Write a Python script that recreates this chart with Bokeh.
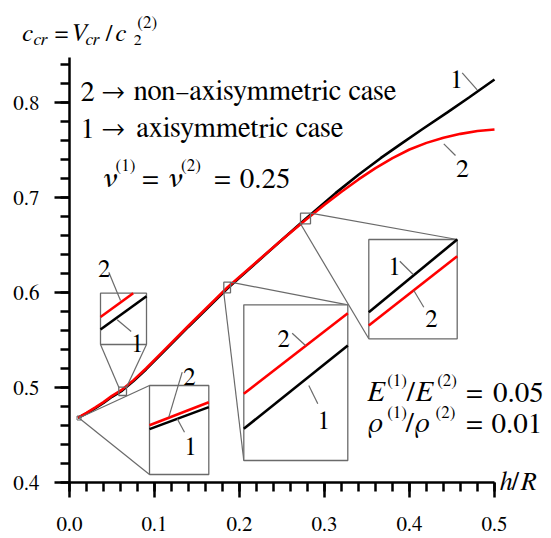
from bokeh.plotting import figure
from bokeh.models import Range1d, SingleIntervalTicker, Label, LinearAxis, NumeralTickFormatter
from bokeh.embed import file_html
from bokeh.resources import INLINE

# ---------------- data ----------------
h_R_1 = [0.01, 0.02, 0.03, 0.04, 0.05, 0.062, 0.075, 0.09, 0.11, 0.14, 0.186, 0.223,
         0.25, 0.278, 0.313, 0.34, 0.366, 0.39, 0.415, 0.445, 0.47, 0.5]
c_cr_1 = [0.468, 0.4727, 0.478, 0.4837, 0.4902, 0.4968, 0.5065, 0.519, 0.537, 0.564, 0.6045, 0.634,
          0.6555, 0.6776, 0.7046, 0.724, 0.7414, 0.7565, 0.7718, 0.7898, 0.8053, 0.8242]
h_R_2 = [0.01, 0.02, 0.03, 0.04, 0.05, 0.062, 0.075, 0.09, 0.11, 0.14, 0.186, 0.223,
         0.25, 0.278, 0.30, 0.32, 0.34, 0.36, 0.38, 0.40, 0.42, 0.44, 0.46, 0.48, 0.5]
c_cr_2 = [0.4682, 0.4732, 0.4788, 0.4846, 0.4912, 0.4978, 0.5075, 0.52, 0.538, 0.565, 0.6055, 0.6345,
          0.6555, 0.6766, 0.6925, 0.706, 0.719, 0.731, 0.7415, 0.7505, 0.7575, 0.763, 0.767, 0.770, 0.7716]
x_ticks = [0.0, 0.1, 0.2, 0.3, 0.4, 0.5]
y_ticks = [0.4, 0.5, 0.6, 0.7, 0.8]

FONT = "FreeSerif"
GRAY = "#6a6a6a"

# ---------------- geometry (page px -> data) ----------------
X0_PX, X_SCALE = 69.0, 850.0   # page px of h/R = 0, px per unit
Y0_PX, Y_SCALE = 482.0, 950.0  # page px of c = 0.4, px per unit
TOP_PX = 57.0                  # upper end of the vertical axis
W, H = 549, 534
PAGE = 0.0


def X(px):
    return (px - X0_PX) / X_SCALE


def Y(py):
    return 0.4 + (Y0_PX - py) / Y_SCALE


y_axis_top = Y(TOP_PX)

p = figure(width=W, height=H,
           x_range=Range1d(X(PAGE), X(PAGE + W)), y_range=Range1d(Y(PAGE + H), Y(PAGE)),
           min_border_left=0, min_border_right=0, min_border_top=0, min_border_bottom=0,
           x_axis_location=None, y_axis_location=None,
           toolbar_location=None, output_backend="svg", background_fill_color="white",
           border_fill_color="white", outline_line_color=None)
p.xgrid.visible = False
p.ygrid.visible = False


def style_axis(ax):
    ax.axis_line_width = 2.5
    ax.axis_line_color = "black"
    ax.major_tick_line_width = 2.5
    ax.minor_tick_line_width = 2.5
    ax.major_tick_line_color = "black"
    ax.minor_tick_line_color = "black"
    ax.major_tick_out = 15
    ax.major_tick_in = 0
    ax.minor_tick_out = 9
    ax.minor_tick_in = 0
    ax.major_label_text_font = FONT
    ax.major_label_text_font_size = "21px"
    ax.major_label_text_color = "black"
    ax.formatter = NumeralTickFormatter(format="0.0")


xaxis = LinearAxis(ticker=SingleIntervalTicker(interval=0.1, num_minor_ticks=5),
                   fixed_location=y_ticks[0], bounds=(x_ticks[0], x_ticks[-1]))
style_axis(xaxis)
xaxis.major_label_standoff = 19
p.add_layout(xaxis, "below")

yaxis = LinearAxis(ticker=SingleIntervalTicker(interval=0.1, num_minor_ticks=5),
                   fixed_location=x_ticks[0], bounds=(y_ticks[0], y_axis_top))
style_axis(yaxis)
yaxis.major_label_standoff = 15
p.add_layout(yaxis, "left")

# ---------------- curves ----------------
p.line(h_R_1, c_cr_1, line_color="black", line_width=2.6)
p.line(h_R_2, c_cr_2, line_color="#ff0000", line_width=2.6)


# ---------------- insets (magnified views) ----------------
def seg(x0, y0, x1, y1, color=GRAY, width=1.2):
    p.segment(X(x0), Y(y0), X(x1), Y(y1), line_color=color, line_width=width)


def box(l, t, r, b, width=1.3):
    p.quad(left=X(l), right=X(r), top=Y(t), bottom=Y(b), fill_color="white",
           line_color=GRAY, line_width=width)


def txt(t, x, base, size, italic=False, align="left"):
    p.add_layout(Label(x=X(x), y=Y(base), text=t, text_font=FONT, text_font_size=size,
                       text_font_style="italic" if italic else "normal",
                       text_align=align, text_baseline="alphabetic", text_color="black"))


def num(t, cx, base, size="25px"):
    txt(t, cx, base, size, align="center")


# small markers on the curves
p.quad(left=X(76.5), right=X(80.5), top=Y(415.5), bottom=Y(419.5), fill_color=None,
       line_color=GRAY, line_width=1.0)
for (l, t, r, b) in [(118.3, 386.7, 126.0, 395.0), (223.3, 281.7, 230.0, 292.3),
                     (300.0, 212.7, 310.0, 223.3)]:
    p.quad(left=X(l), right=X(r), top=Y(t), bottom=Y(b), fill_color=None,
           line_color=GRAY, line_width=1.3)

# connectors
seg(78.5, 417.5, 149.0, 385.0)
seg(78.5, 417.5, 149.0, 474.0)
seg(100.0, 344.0, 118.3, 386.7)
seg(146.0, 344.0, 126.0, 386.7)
seg(230.0, 281.7, 347.3, 304.3)
seg(223.3, 292.3, 243.3, 460.0)
seg(310.0, 212.7, 456.7, 239.0)
seg(300.0, 223.3, 368.3, 338.3)

# inset frames
box(149.0, 385.0, 208.3, 474.0)
box(100.0, 292.7, 146.0, 344.0)
box(243.3, 304.3, 347.3, 460.0)
box(368.3, 239.0, 456.7, 338.3)

# inset A
seg(149.0, 424.8, 208.3, 401.8, "#ff0000", 2.6)
seg(149.0, 428.6, 208.3, 406.6, "black", 2.6)
seg(181.7, 371.7, 168.3, 416.7)
seg(176.7, 418.3, 184.0, 431.7)
num("2", 189.0, 376.7)
num("1", 190.0, 446.0)
# inset B
seg(100.0, 316.5, 132.7, 292.7, "#ff0000", 2.6)
seg(100.0, 329.0, 146.0, 295.7, "black", 2.6)
seg(108.3, 271.7, 120.0, 300.0)
seg(130.7, 331.0, 116.7, 319.3)
num("2", 103.7, 268.3)
num("1", 136.7, 343.3)
# inset C
seg(243.3, 393.3, 347.3, 312.7, "#ff0000", 2.6)
seg(243.3, 428.3, 347.3, 345.0, "black", 2.6)
seg(291.7, 332.7, 305.0, 345.0)
seg(317.3, 403.3, 308.3, 385.0)
num("2", 283.3, 338.3)
num("1", 323.3, 420.0)
# inset D
seg(368.3, 311.7, 456.7, 239.0, "black", 2.6)
seg(368.3, 325.0, 456.7, 255.7, "#ff0000", 2.6)
seg(399.3, 260.7, 412.7, 274.0)
seg(413.3, 290.0, 423.3, 306.7)
num("1", 394.0, 266.7)
num("2", 431.0, 318.3)

# labels of the main curves
seg(461.7, 72.3, 476.7, 89.3)
seg(443.3, 143.3, 455.0, 155.0)
num("1", 456.0, 79.3, "26px")
num("2", 462.0, 168.3, "26px")

# ---------------- texts ----------------
# vertical axis title: c_cr = V_cr / c_2^(2)
txt("c", 21.7, 33.3, "25px", True)
txt("cr", 33.0, 39.3, "18px", True)
txt("=", 61.0, 33.3, "24px", align="center")
txt("V", 70.0, 33.3, "25px", True)
txt("cr", 85.0, 39.3, "18px", True)
txt("/", 105.0, 33.3, "24px")
txt("c", 115.0, 33.3, "25px", True)
txt("(2)", 146.7, 22.0, "17px", align="center")
txt("2", 133.3, 39.3, "16px")

# horizontal axis title h/R
txt("h", 499.3, 481.7, "26px", True)
txt("/", 511.0, 481.7, "26px")
txt("R", 520.0, 481.7, "26px", True)

# legend
txt("2", 80.0, 90.7, "28.5px")
txt("\u2192", 113.0, 90.7, "28.5px", align="center")
txt("non\u2013axisymmetric case", 133.3, 90.7, "28.5px")
txt("1", 80.0, 128.3, "28.5px")
txt("\u2192", 113.0, 128.3, "28.5px", align="center")
txt("axisymmetric case", 136.0, 128.3, "28.5px")

# Poisson ratios
txt("\u03bd", 101.7, 178.0, "29px", True)
txt("(1)", 115.0, 165.0, "17px")
txt("=", 150.0, 178.0, "29px", align="center")
txt("\u03bd", 167.0, 178.0, "29px", True)
txt("(2)", 180.5, 165.0, "17px")
txt("=", 222.0, 178.0, "29px", align="center")
txt("0.25", 290.0, 178.0, "29px", align="right")

# E ratio
txt("E", 366.7, 391.7, "29px", True)
txt("(1)", 386.7, 380.0, "17px")
txt("/", 406.0, 391.7, "29px")
txt("E", 415.0, 391.7, "29px", True)
txt("(2)", 436.7, 380.0, "17px")
txt("=", 474.0, 391.7, "29px", align="center")
txt("0.05", 543.3, 391.7, "29px", align="right")
# density ratio
txt("\u03c1", 368.3, 423.3, "29px", True)
txt("(1)", 386.7, 412.0, "17px")
txt("/", 405.0, 423.3, "29px")
txt("\u03c1", 415.0, 423.3, "29px", True)
txt("(2)", 435.0, 412.0, "17px")
txt("=", 474.0, 423.3, "29px", align="center")
txt("0.01", 541.7, 423.3, "29px", align="right")

open("out.html", "w").write(file_html(p, INLINE))
